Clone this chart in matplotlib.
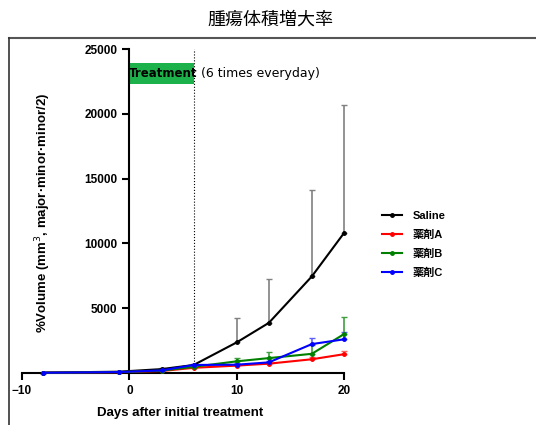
import matplotlib

matplotlib.use("Agg")
import matplotlib.pyplot as plt
from matplotlib.lines import Line2D

plt.rcParams["font.family"] = ["Liberation Sans", "Noto Sans CJK JP", "DejaVu Sans"]

days = [-8, -1, 3, 6, 10, 13, 17, 20]

series_names = ["Saline", "薬剤A", "薬剤B", "薬剤C"]
series_colors = ["black", "red", "green", "blue"]
err_colors = ["gray", "#ff6060", "#40a040", "#6060ff"]

saline = [30, 100, 300, 620, 2360, 3870, 7450, 10800]
saline_err = [0, 0, 50, 100, 1920, 3410, 6650, 9900]
drug_a = [20, 60, 150, 400, 570, 720, 1060, 1450]
drug_a_err = [0, 0, 20, 50, 80, 100, 150, 250]
drug_b = [20, 70, 180, 480, 900, 1150, 1480, 3000]
drug_b_err = [0, 0, 30, 80, 280, 450, 700, 1300]
drug_c = [20, 70, 200, 620, 640, 820, 2230, 2600]
drug_c_err = [0, 0, 40, 100, 100, 120, 450, 580]

x_ticks = [-10, 0, 10, 20]
y_ticks = [5000, 10000, 15000, 20000, 25000]

treatment_start = 0
treatment_end = 6

W, H = 536, 425
fig = plt.figure(figsize=(W / 100, H / 100), dpi=100)
ax = fig.add_axes([22 / W, 1 - 373 / H, (344 - 22) / W, (373 - 49) / H])

values = [saline, drug_a, drug_b, drug_c]
errors = [saline_err, drug_a_err, drug_b_err, drug_c_err]
handles = []
for name, vals, errs, col, ecol in zip(series_names, values, errors, series_colors, err_colors):
    ax.errorbar(days, vals, yerr=[[0] * len(errs), errs], fmt="none",
                ecolor=ecol, elinewidth=1.2, capsize=2, capthick=1.0, clip_on=False, zorder=2)
    (ln,) = ax.plot(days, vals, color=col, lw=1.5, marker="o", markersize=2.5,
                    clip_on=False, zorder=3, label=name)
    handles.append(ln)

# treatment window
ax.axvline(treatment_end, ymin=0, ymax=1, color="black", ls=":", lw=0.8, zorder=1)
ax.fill_between([treatment_start, treatment_end], 22300, 23900, color="#1db14b", lw=0, zorder=1)
t = ax.text(treatment_start, 23100, "Treatment", fontsize=8.5, fontweight="bold",
            family="DejaVu Sans", va="center", ha="left", zorder=4)
ax.annotate("(6 times everyday)", xy=(1, 0.5), xycoords=t, xytext=(2, 0),
            textcoords="offset points", va="center", ha="left", fontsize=9,
            family="DejaVu Sans")

ax.set_xlim(-10, 20)
ax.set_ylim(0, 25000)
ax.spines["left"].set_position(("data", 0))
ax.spines["right"].set_visible(False)
ax.spines["top"].set_visible(False)
for s in ["left", "bottom"]:
    ax.spines[s].set_linewidth(1.5)
ax.set_xticks(x_ticks)
ax.set_yticks(y_ticks)
ax.tick_params(width=1.5, length=5, labelsize=8.5)
for lab in ax.get_xticklabels() + ax.get_yticklabels():
    lab.set_fontweight("bold")

fig.text(43 / W, 1 - 213 / H, "%Volume (mm$^3$, major·minor·minor/2)", rotation=90,
         ha="center", va="center", fontsize=9.5, fontweight="bold")
fig.text(180 / W, 1 - 413 / H, "Days after initial treatment", ha="center", va="center",
         fontsize=9.5, fontweight="bold")
fig.text(270 / W, 1 - 20 / H, "腫瘍体積増大率", ha="center", va="center", fontsize=13,
         family=["Noto Sans CJK JP"])

fig.legend(handles=handles, loc="upper left", bbox_to_anchor=(372 / W, 1 - 201 / H),
           frameon=False, prop={"size": 8, "weight": "bold"}, handlelength=1.8,
           handletextpad=1.0, labelspacing=0.8)

# outer frame
fig.add_artist(Line2D([9 / W, 1], [1 - 38 / H, 1 - 38 / H], color="#555555", lw=1.5))
fig.add_artist(Line2D([9 / W, 9 / W], [0, 1 - 38 / H], color="#333333", lw=1.2))

fig.savefig("out.png", dpi=100)
